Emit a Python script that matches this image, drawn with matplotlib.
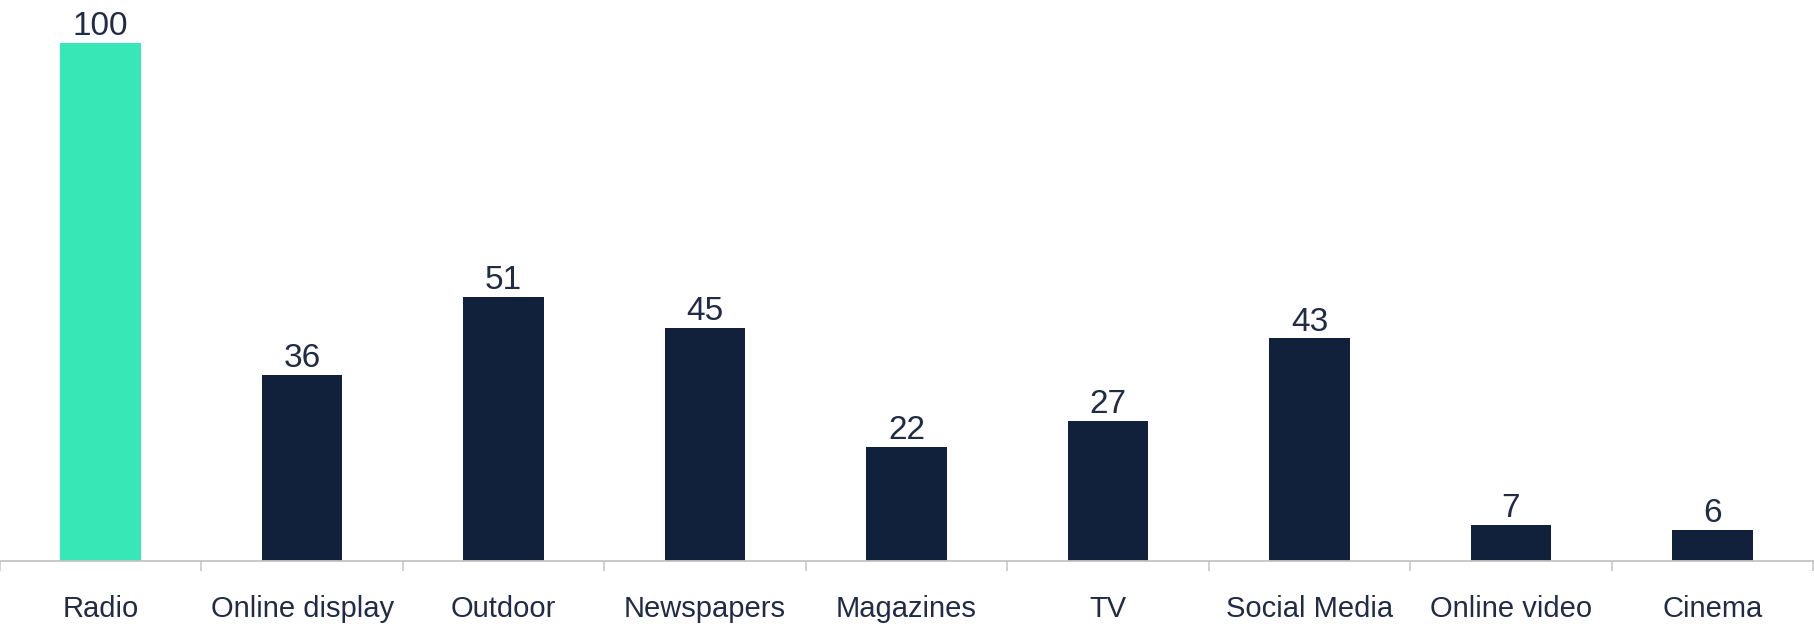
import matplotlib
matplotlib.use("Agg")
import matplotlib.pyplot as plt

categories = ["Radio", "Online display", "Outdoor", "Newspapers", "Magazines",
              "TV", "Social Media", "Online video", "Cinema"]
values = [100, 36, 51, 45, 22, 27, 43, 7, 6]

NAVY = "#12213b"
GREEN = "#37e8b6"
TEXT = "#222b45"

plt.rcParams["font.family"] = ["Liberation Sans", "DejaVu Sans"]

fig = plt.figure(figsize=(18.14, 6.24), dpi=100)
ax = fig.add_axes([0, 63 / 624, 1813 / 1814, 561 / 624])

colors = [GREEN] + [NAVY] * (len(values) - 1)
x = list(range(len(categories)))
bars = ax.bar(x, values, width=0.4, color=colors)
ax.bar_label(bars, labels=[str(v) for v in values], padding=0.5,
             fontsize=24, color=TEXT)

ax.set_xlim(-0.5, len(categories) - 0.5)
ax.set_ylim(0, 108.3)

ax.set_xticks(x)
ax.set_xticklabels(categories, fontsize=21, color=TEXT)
# short separators between categories
ax.set_xticks([i - 0.5 for i in range(len(categories) + 1)], minor=True)
ax.tick_params(axis="x", which="major", length=0, pad=24.5)
ax.tick_params(axis="x", which="minor", length=7, width=1.1, color="#c4c4c4")
ax.set_yticks([])

for side in ["top", "right", "left"]:
    ax.spines[side].set_visible(False)
ax.spines["bottom"].set_color("#c4c4c4")
ax.spines["bottom"].set_linewidth(1.3)

fig.savefig("out.png", dpi=100)
